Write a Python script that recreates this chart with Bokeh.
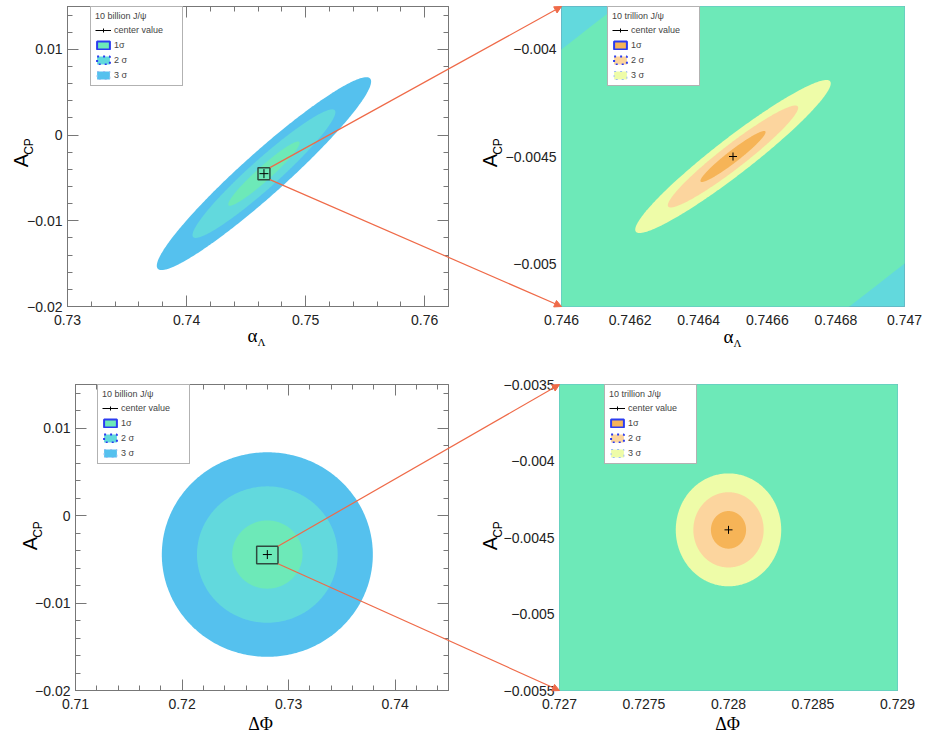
import numpy as np
from bokeh.plotting import figure
from bokeh.layouts import column, row
from bokeh.models import (Arrow, FixedTicker, GridBox, Label, Legend, LegendItem,
                          LinearAxis, NormalHead, Range1d)
from bokeh.embed import file_html
from bokeh.resources import INLINE

# ---------------------------------------------------------------- values
sample_names = ["10 billion J/ψ", "10 trillion J/ψ"]
sigma_levels = [3, 2, 1]
sigma_labels = ["1σ", "2 σ", "3 σ"]

# central values
alpha_center = 0.7465
acp_center_alpha = -0.0045
dphi_center = 0.728
acp_center_dphi = -0.00445

# Gaussian widths (10 billion, 10 trillion events) and correlations
alpha_sigma = [0.0030, 0.000095]
acp_sigma_alpha = [0.00375, 0.000119]
alpha_acp_rho = 0.955

dphi_sigma = [0.0033, 0.000104]
acp_sigma_dphi = [0.0039, 0.000123]
dphi_acp_rho = 0.0

# axis ranges
alpha_range = (0.73, 0.762)
acp_range = (-0.02, 0.015)
alpha_zoom_range = (0.746, 0.747)
acp_zoom_range_alpha = (-0.0052, -0.0038)
dphi_range = (0.71, 0.745)
dphi_zoom_range = (0.727, 0.729)
acp_zoom_range_dphi = (-0.0055, -0.0035)

# ticks and their labels
alpha_ticks = [0.73, 0.74, 0.75, 0.76]
alpha_tick_labels = ["0.73", "0.74", "0.75", "0.76"]
acp_ticks = [-0.02, -0.01, 0.0, 0.01]
acp_tick_labels = ["−0.02", "−0.01", "0", "0.01"]
alpha_zoom_ticks = [0.746, 0.7462, 0.7464, 0.7466, 0.7468, 0.747]
alpha_zoom_tick_labels = ["0.746", "0.7462", "0.7464", "0.7466", "0.7468", "0.747"]
acp_zoom_ticks_alpha = [-0.005, -0.0045, -0.004]
acp_zoom_tick_labels_alpha = ["−0.005", "−0.0045", "−0.004"]
dphi_ticks = [0.71, 0.72, 0.73, 0.74]
dphi_tick_labels = ["0.71", "0.72", "0.73", "0.74"]
dphi_zoom_ticks = [0.727, 0.7275, 0.728, 0.7285, 0.729]
dphi_zoom_tick_labels = ["0.727", "0.7275", "0.728", "0.7285", "0.729"]
acp_zoom_ticks_dphi = [-0.0055, -0.005, -0.0045, -0.004, -0.0035]
acp_zoom_tick_labels_dphi = ["−0.0055", "−0.005", "−0.0045", "−0.004", "−0.0035"]

# colours: [1σ, 2σ, 3σ]
big_colors = ["#6de9b8", "#62d9dd", "#55c1ee"]
small_colors = ["#f6b457", "#fcd59e", "#eefca8"]
legend_edges = ["#2b3cf0", "#2b3cf0", "#9dbcf2"]
ARROW_RED = "#ef6a48"
FRAME_GRAY = "#777777"

# ---------------------------------------------------------------- layout
PAGE_W, PAGE_H = 929, 733
GEOM = {
    "tl": dict(ox=0, oy=0, w=460, h=370, left=67, right=12, top=6, bottom=64),
    "tr": dict(ox=460, oy=0, w=469, h=370, left=101, right=25, top=6, bottom=64),
    "bl": dict(ox=0, oy=370, w=460, h=363, left=75, right=12, top=14, bottom=43),
    "br": dict(ox=460, oy=370, w=469, h=363, left=99, right=32, top=14, bottom=43),
}
for g in GEOM.values():
    g["fw"] = g["w"] - g["left"] - g["right"]
    g["fh"] = g["h"] - g["top"] - g["bottom"]

LEGEND_H = 79
THETA = np.linspace(0.0, 2.0 * np.pi, 361)


def contour(cx, cy, sx, sy, rho, n_sigma):
    """Points of the n-sigma ellipse of a correlated 2D Gaussian."""
    u, v = np.cos(THETA), np.sin(THETA)
    x = cx + n_sigma * sx * u
    y = cy + n_sigma * sy * (rho * u + np.sqrt(1.0 - rho ** 2) * v)
    return x, y


def to_page(key, xr, yr, x, y):
    """Pixel position on the page of a data point of one panel."""
    g = GEOM[key]
    px = g["ox"] + g["left"] + (x - xr[0]) / (xr[1] - xr[0]) * g["fw"]
    py = g["oy"] + g["top"] + (yr[1] - y) / (yr[1] - yr[0]) * g["fh"]
    return px, py


def minor_ticks(lo, hi, step):
    return list(np.round(np.arange(lo, hi + step / 2, step), 6))


def make_panel(key, xr, yr, xt, xl, yt, yl, zoom):
    g = GEOM[key]
    p = figure(width=g["w"], height=g["h"], x_range=xr, y_range=yr,
               min_border_left=g["left"], min_border_right=g["right"],
               min_border_top=g["top"], min_border_bottom=g["bottom"],
               output_backend="svg", toolbar_location=None)
    p.grid.visible = False
    p.background_fill_color = "white"
    p.border_fill_color = "white"
    p.outline_line_color = FRAME_GRAY
    p.outline_line_width = 1

    if zoom:
        mx, my = [], []
    else:
        mx = minor_ticks(xr[0], xr[1], 0.002)
        my = minor_ticks(yr[0], yr[1], 0.002)

    def style(ax, ticks, labels, minors, show_labels, standoff):
        ax.ticker = FixedTicker(ticks=ticks, minor_ticks=minors)
        ax.major_label_overrides = dict(zip(ticks, labels if show_labels else [""] * len(ticks)))
        ax.major_label_text_font = "Liberation Sans"
        ax.major_label_text_font_size = "14px" if show_labels else "0px"
        ax.major_label_text_color = "#222222"
        ax.major_label_standoff = standoff if show_labels else 0
        ax.axis_label = None
        ax.axis_label_standoff = 0
        ax.major_tick_out = 0
        ax.minor_tick_out = 0
        if zoom:
            ax.axis_line_color = None
            ax.major_tick_line_color = None
            ax.minor_tick_line_color = None
            ax.major_tick_in = 0
            ax.minor_tick_in = 0
        else:
            ax.axis_line_color = FRAME_GRAY
            ax.major_tick_line_color = FRAME_GRAY
            ax.minor_tick_line_color = FRAME_GRAY
            ax.major_tick_in = 11
            ax.minor_tick_in = 5

    style(p.xaxis[0], xt, xl, mx, True, 8)
    style(p.yaxis[0], yt, yl, my, True, 5)
    if not zoom:
        top_axis = LinearAxis()
        right_axis = LinearAxis()
        style(top_axis, xt, xl, mx, False, 0)
        style(right_axis, yt, yl, my, False, 0)
        p.add_layout(top_axis, "above")
        p.add_layout(right_axis, "right")
    return p


def add_legend(p, key, header, colors, x_off, cx, cy, shapes):
    """ROOT-style legend; its swatches come from hidden copies of the contours."""
    g = GEOM[key]
    hline = p.line([cx, cx], [cy, cy], line_color="black", line_width=1, visible=False)
    cross = p.scatter([cx], [cy], marker="cross", line_color="black", line_width=1,
                      visible=False)
    r1 = p.patch(*shapes[1], fill_color=colors[0], line_color=legend_edges[0],
                 line_width=2, visible=False)
    r2 = p.patch(*shapes[2], fill_color=colors[1], line_color=legend_edges[1],
                 line_width=2, line_dash="dotted", visible=False)
    r3 = p.patch(*shapes[3], fill_color=colors[2], line_color=legend_edges[2],
                 line_width=1, line_dash="dotted", visible=False)
    items = [LegendItem(label="center value", renderers=[hline, cross]),
             LegendItem(label=sigma_labels[0], renderers=[r1]),
             LegendItem(label=sigma_labels[1], renderers=[r2]),
             LegendItem(label=sigma_labels[2], renderers=[r3])]
    leg = Legend(items=items, title=header, location=(x_off, g["fh"] - LEGEND_H - 1),
                 title_text_font="Liberation Sans", title_text_font_size="9px",
                 title_text_font_style="normal", title_standoff=3,
                 label_text_font="Liberation Sans", label_text_font_size="9px",
                 label_height=12, label_width=64, glyph_height=10, glyph_width=16,
                 label_standoff=3, spacing=3, padding=4, margin=0,
                 border_line_color="#666666", border_line_width=1,
                 background_fill_color="white", background_fill_alpha=1.0,
                 inactive_fill_alpha=0.0)
    p.add_layout(leg)


def draw_contours(p, cx, cy, sx, sy, rho, colors):
    shapes = {}
    for n in sigma_levels:
        x, y = contour(cx, cy, sx, sy, rho, n)
        p.patch(x, y, fill_color=colors[n - 1], line_color=None)
        shapes[n] = (x, y)
    return shapes


def build_row(kb, kz, xr, xzr, yr, yzr, cx, cy, sx, sy, rho,
              xt, xl, xzt, xzl, yt, yl, yzt, yzl, leg_offsets):
    p_big = make_panel(kb, xr, yr, xt, xl, yt, yl, zoom=False)
    p_zoom = make_panel(kz, xzr, yzr, xzt, xzl, yzt, yzl, zoom=True)

    big_shapes = draw_contours(p_big, cx, cy, sx[0], sy[0], rho, big_colors)
    draw_contours(p_zoom, cx, cy, sx[0], sy[0], rho, big_colors)
    small_shapes = draw_contours(p_zoom, cx, cy, sx[1], sy[1], rho, small_colors)

    # zoom window drawn on the wide panel
    p_big.quad(left=[xzr[0]], right=[xzr[1]], bottom=[yzr[0]], top=[yzr[1]],
               fill_color=None, line_color="#2f4a3f", line_width=1.5)
    p_big.scatter([cx], [cy], marker="cross", size=9, line_color="black", line_width=1)
    p_zoom.scatter([cx], [cy], marker="cross", size=8, line_color="black", line_width=1)

    add_legend(p_big, kb, sample_names[0], big_colors, leg_offsets[0], cx, cy, big_shapes)
    add_legend(p_zoom, kz, sample_names[1], small_colors, leg_offsets[1], cx, cy, small_shapes)
    return p_big, p_zoom


# ---------------------------------------------------------------- top row: alpha_Lambda
p1, p2 = build_row("tl", "tr", alpha_range, alpha_zoom_range, acp_range, acp_zoom_range_alpha,
                   alpha_center, acp_center_alpha, alpha_sigma, acp_sigma_alpha, alpha_acp_rho,
                   alpha_ticks, alpha_tick_labels, alpha_zoom_ticks, alpha_zoom_tick_labels,
                   acp_ticks, acp_tick_labels, acp_zoom_ticks_alpha, acp_zoom_tick_labels_alpha,
                   (23, 46))

# ---------------------------------------------------------------- bottom row: Delta Phi
p3, p4 = build_row("bl", "br", dphi_range, dphi_zoom_range, acp_range, acp_zoom_range_dphi,
                   dphi_center, acp_center_dphi, dphi_sigma, acp_sigma_dphi, dphi_acp_rho,
                   dphi_ticks, dphi_tick_labels, dphi_zoom_ticks, dphi_zoom_tick_labels,
                   acp_ticks, acp_tick_labels, acp_zoom_ticks_dphi, acp_zoom_tick_labels_dphi,
                   (22, 45))

panels = column(row(p1, p2, spacing=0), row(p3, p4, spacing=0), spacing=0)

# ---------------------------------------------------------------- page overlay
# A transparent page-sized canvas (pixel coordinates, y downwards) on top of the
# four panels: it carries the zoom connectors and the axis titles with subscripts.
ov = figure(width=PAGE_W, height=PAGE_H, x_range=Range1d(0, PAGE_W),
            y_range=Range1d(PAGE_H, 0), min_border=0,
            x_axis_location=None, y_axis_location=None,
            output_backend="svg", toolbar_location=None)
ov.grid.visible = False
ov.background_fill_color = None
ov.border_fill_color = None
ov.outline_line_color = None


def connector(kb, big_r, kz, zoom_r, corner_big, corner_zoom):
    ax, ay = to_page(kb, *big_r, *corner_big)
    bx, by = to_page(kz, *zoom_r, *corner_zoom)
    ov.add_layout(Arrow(end=NormalHead(size=7, fill_color=ARROW_RED, line_color=ARROW_RED),
                        x_start=ax, y_start=ay, x_end=bx, y_end=by,
                        line_color=ARROW_RED, line_width=1.2))


for kb, kz, xr, yr, xzr, yzr in (("tl", "tr", alpha_range, acp_range, alpha_zoom_range, acp_zoom_range_alpha),
                                 ("bl", "br", dphi_range, acp_range, dphi_zoom_range, acp_zoom_range_dphi)):
    connector(kb, (xr, yr), kz, (xzr, yzr), (xzr[1], yzr[1]), (xzr[0], yzr[1]))
    connector(kb, (xr, yr), kz, (xzr, yzr), (xzr[1], yzr[0]), (xzr[0], yzr[0]))


def title_text(px, py, text, font, size, angle=0.0):
    ov.add_layout(Label(x=px, y=py, text=text, text_font=font, text_font_size=size,
                        text_color="black", text_align="center",
                        text_baseline="middle", angle=angle))


def acp_title(px, py):
    title_text(px, py, "A", "Liberation Sans", "20px", np.pi / 2)
    title_text(px + 8.5, py - 14, "CP", "Liberation Sans", "12px", np.pi / 2)


def alpha_title(px, py):
    title_text(px, py, "α", "Liberation Serif", "19px")
    title_text(px + 9, py + 6, "Λ", "Liberation Serif", "11px")


acp_title(20, 160)
acp_title(489, 160)
acp_title(29, 543)
acp_title(489, 543)
alpha_title(252, 335)
alpha_title(728, 336)
title_text(260, 723, "ΔΦ", "Liberation Serif", "18px")
title_text(727, 723, "ΔΦ", "Liberation Serif", "18px")

page = GridBox(children=[(panels, 0, 0), (ov, 0, 0)])

with open("out.html", "w") as f:
    f.write(file_html(page, INLINE))
